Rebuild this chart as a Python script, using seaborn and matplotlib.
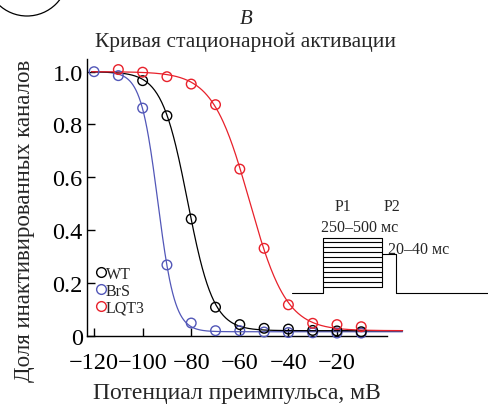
import numpy as np
import pandas as pd
import matplotlib
matplotlib.use('Agg')
import matplotlib.pyplot as plt
from matplotlib.lines import Line2D
from matplotlib.patches import Circle
import seaborn as sns

# Потенциал преимпульса (мВ) и доля инактивированных каналов
v_wt = [-100, -90, -80, -70, -60, -50, -40, -30, -20, -10]
y_wt = [0.966, 0.833, 0.442, 0.108, 0.042, 0.028, 0.025, 0.020, 0.018, 0.015]

v_brs = [-120, -110, -100, -90, -80, -70, -60, -50, -40, -30, -20, -10]
y_brs = [1.0, 0.985, 0.862, 0.268, 0.048, 0.019, 0.019, 0.014, 0.012, 0.011, 0.010, 0.010]

v_lqt = [-110, -100, -90, -80, -70, -60, -50, -40, -30, -20, -10]
y_lqt = [1.008, 0.998, 0.981, 0.953, 0.875, 0.631, 0.331, 0.117, 0.047, 0.042, 0.034]

groups = ['WT', 'BrS', 'LQT3']
colors = {'WT': 'black', 'BrS': '#5257b8', 'LQT3': '#e8212b'}

xticks = [-120, -100, -80, -60, -40, -20]
xtick_labels = ['\u2212120', '\u2212100', '\u221280', '\u221260', '\u221240', '\u221220']
yticks = [0, 0.2, 0.4, 0.6, 0.8, 1.0]
ytick_labels = ['0', '0.2', '0.4', '0.6', '0.8', '1.0']


# Больцмановская аппроксимация по точкам (перебор по сетке)
def boltzmann(v, vh, k, b):
    return b + (1 - b) / (1 + np.exp((v - vh) / k))


def fit_boltzmann(v, y):
    v = np.asarray(v, float)
    y = np.asarray(y, float)
    vh = np.arange(-110, -30, 0.25)[:, None, None, None]
    k = np.arange(2, 15, 0.1)[None, :, None, None]
    b = np.arange(0, 0.02, 0.001)[None, None, :, None]
    err = ((boltzmann(v, vh, k, b) - y) ** 2).sum(-1)
    i = np.unravel_index(err.argmin(), err.shape)
    return vh.ravel()[i[0]], k.ravel()[i[1]], b.ravel()[i[2]]


pts = pd.concat([
    pd.DataFrame({'V': v_wt, 'frac': y_wt, 'group': 'WT'}),
    pd.DataFrame({'V': v_brs, 'frac': y_brs, 'group': 'BrS'}),
    pd.DataFrame({'V': v_lqt, 'frac': y_lqt, 'group': 'LQT3'}),
], ignore_index=True)

v_fine = np.linspace(-121, 7, 400)
fits = []
for g in groups:
    sub = pts[pts['group'] == g]
    p = fit_boltzmann(sub['V'], sub['frac'])
    fits.append(pd.DataFrame({'V': v_fine, 'frac': boltzmann(v_fine, *p), 'group': g}))
fits = pd.concat(fits, ignore_index=True)

sns.set_style('ticks')
plt.rcParams['font.family'] = ['Liberation Serif', 'DejaVu Serif']

fig = plt.figure(figsize=(4.89, 4.1), dpi=100)
ax = fig.add_axes([87.5 / 489, 73.3 / 410, 299.5 / 489, 276.7 / 410])

for g in ['BrS', 'WT', 'LQT3']:
    sns.lineplot(data=fits[fits['group'] == g], x='V', y='frac', color=colors[g],
                 linewidth=0.9, ax=ax, clip_on=False, zorder=2)
for g in ['BrS', 'WT', 'LQT3']:
    sns.scatterplot(data=pts[pts['group'] == g], x='V', y='frac', color=colors[g],
                    facecolor='none', edgecolor=colors[g], s=48, linewidth=1.0,
                    ax=ax, clip_on=False, zorder=3)

ax.set_xlim(-122.7, 0.6)
ax.set_ylim(0, 1.048)
ax.set_xticks(xticks)
ax.set_xticklabels(xtick_labels)
ax.set_yticks(yticks)
ax.set_yticklabels(ytick_labels)
ax.tick_params(direction='in', length=6, width=1, labelsize=17.5, colors='black')
ax.tick_params(axis='x', pad=12)
ax.tick_params(axis='y', pad=3.5)
for s in ['top', 'right']:
    ax.spines[s].set_visible(False)
for s in ['left', 'bottom']:
    ax.spines[s].set_linewidth(1.0)
    ax.spines[s].set_color('black')

ax.set_xlabel('Потенциал преимпульса, мВ', fontsize=17, labelpad=6)
ax.set_ylabel('Доля инактивированных каналов', fontsize=16.5)
ax.yaxis.set_label_coords(-0.175, 0.418)

handles = [Line2D([], [], marker='o', ls='', ms=7, mfc='none', mec=colors[g], mew=1.0) for g in groups]
ax.legend(handles, groups, loc='lower left', bbox_to_anchor=(0.0, 0.038), frameon=False,
          fontsize=11.5, handlelength=0.5, handletextpad=0.05, labelspacing=0.05,
          borderaxespad=0.2)

# Подпись и заголовок
fig.text(246 / 489, 1 - 19 / 410, 'B', fontsize=15, style='italic', ha='center', va='center')
fig.text(246 / 489, 1 - 42 / 410, 'Кривая стационарной активации', fontsize=15.5,
         ha='center', va='center')

# Схема протокола стимуляции (в пикселях рисунка)
ov = fig.add_axes([0, 0, 1, 1], facecolor='none')
ov.set_xlim(0, 489)
ov.set_ylim(410, 0)
ov.axis('off')
lw = 0.8
ov.plot([292, 323.3, 323.3], [294, 294, 238.5], color='black', lw=lw)
for yy in np.linspace(238.5, 287.7, 11):
    ov.plot([323.3, 382.3], [yy, yy], color='black', lw=lw)
ov.plot([382.3, 382.3], [238.5, 287.7], color='black', lw=lw)
ov.plot([382.3, 395.7, 395.7, 489], [255, 255, 294, 294], color='black', lw=lw)
ov.text(343, 207, 'P1', fontsize=11.5, ha='center', va='center')
ov.text(391.5, 207, 'P2', fontsize=11.5, ha='center', va='center')
ov.text(321, 228, '250\u2013500 мс', fontsize=11.5, ha='left', va='center')
ov.text(388.5, 250, '20\u201340 мс', fontsize=11.5, ha='left', va='center')
ov.add_patch(Circle((27, -24), 41, fill=False, ec='black', lw=0.9, clip_on=False))

fig.savefig('out.png', dpi=100)
